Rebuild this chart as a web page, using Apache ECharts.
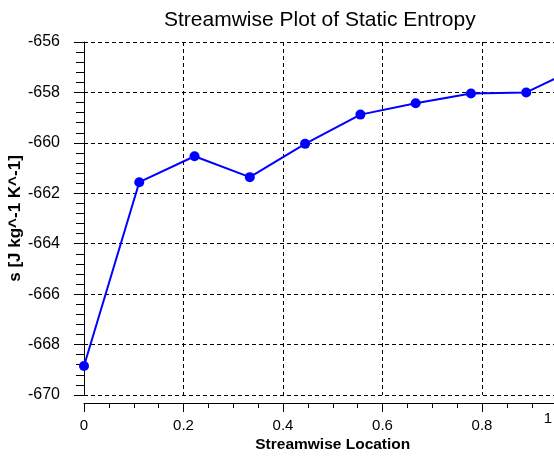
<!DOCTYPE html>
<html>
<head>
<meta charset="utf-8">
<script src="https://cdn.jsdelivr.net/npm/echarts@6/dist/echarts.min.js"></script>
<style>
html,body{margin:0;padding:0;background:#fff;}
#chart{width:554px;height:458px;}
</style>
</head>
<body>
<div id="chart"></div>
<script>
var titleText = 'Streamwise Plot of Static Entropy';
var xName = 'Streamwise Location';
var yName = 's [J kg^-1 K^-1]';
var xLocations = [0, 0.1111, 0.2222, 0.3333, 0.4444, 0.5556, 0.6667, 0.7778, 0.8889, 1.0];
var entropy = [-668.85, -661.56, -660.53, -661.36, -660.04, -658.88, -658.43, -658.04, -658.0, -656.95];
var yTicks = [-670, -668, -666, -664, -662, -660, -658, -656];
var xTicks = [0, 0.2, 0.4, 0.6, 0.8, 1];

var seriesData = xLocations.map(function (x, i) { return [x, entropy[i]]; });
var FONT = '"Liberation Sans", Arial, sans-serif';

var chart = echarts.init(document.getElementById('chart'));
chart.setOption({
  animation: false,
  backgroundColor: '#ffffff',
  title: {
    text: titleText,
    left: 159,
    top: 5,
    textStyle: { fontFamily: FONT, fontSize: 21, fontWeight: 'normal', color: '#000' }
  },
  grid: { left: 84, right: -27.5, top: 42, bottom: 63, containLabel: false, outerBoundsMode: 'none' },
  xAxis: {
    type: 'value',
    min: xTicks[0],
    max: xTicks[xTicks.length - 1],
    interval: 0.2,
    offset: 8,
    name: xName,
    nameLocation: 'middle',
    nameGap: 34,
    nameMoveOverlap: false,
    nameTextStyle: { fontFamily: FONT, fontSize: 15.5, fontWeight: 'bold', color: '#000' },
    axisLine: { show: true, onZero: false, lineStyle: { color: '#000', width: 1 } },
    axisTick: { show: true, inside: false, length: 9, lineStyle: { color: '#000' } },
    minorTick: { show: true, splitNumber: 4, length: 5, lineStyle: { color: '#000' } },
    axisLabel: {
      fontFamily: FONT, fontSize: 15, color: '#000', margin: 15,
      formatter: function (v) { return v >= 1 ? '' : String(Math.round(v * 10) / 10); }
    },
    splitLine: { show: true, lineStyle: { color: '#000', type: [4, 3], width: 1 } }
  },
  yAxis: {
    type: 'value',
    min: yTicks[0],
    max: yTicks[yTicks.length - 1],
    interval: 2,
    offset: 7,
    name: yName,
    nameLocation: 'middle',
    nameRotate: 90,
    nameGap: 53,
    nameMoveOverlap: false,
    nameTextStyle: { fontFamily: FONT, fontSize: 17, fontWeight: 'bold', color: '#000' },
    axisLine: { show: true, lineStyle: { color: '#000', width: 1 } },
    axisTick: { show: true, inside: false, length: 10, lineStyle: { color: '#000' } },
    minorTick: { show: true, splitNumber: 5, length: 8, lineStyle: { color: '#000' } },
    axisLabel: { fontFamily: FONT, fontSize: 16, color: '#000', margin: 17 },
    splitLine: { show: true, lineStyle: { color: '#000', type: [4, 3], width: 1 } }
  },
  graphic: [{
    type: 'text',
    right: 2,
    top: 411,
    style: { text: '1', font: '15px ' + FONT, fill: '#000' }
  }],
  series: [{
    type: 'line',
    data: seriesData,
    clip: false,
    symbol: 'circle',
    symbolSize: 10,
    lineStyle: { color: '#0000ff', width: 2 },
    itemStyle: { color: '#0000ff' }
  }]
});
</script>
</body>
</html>
